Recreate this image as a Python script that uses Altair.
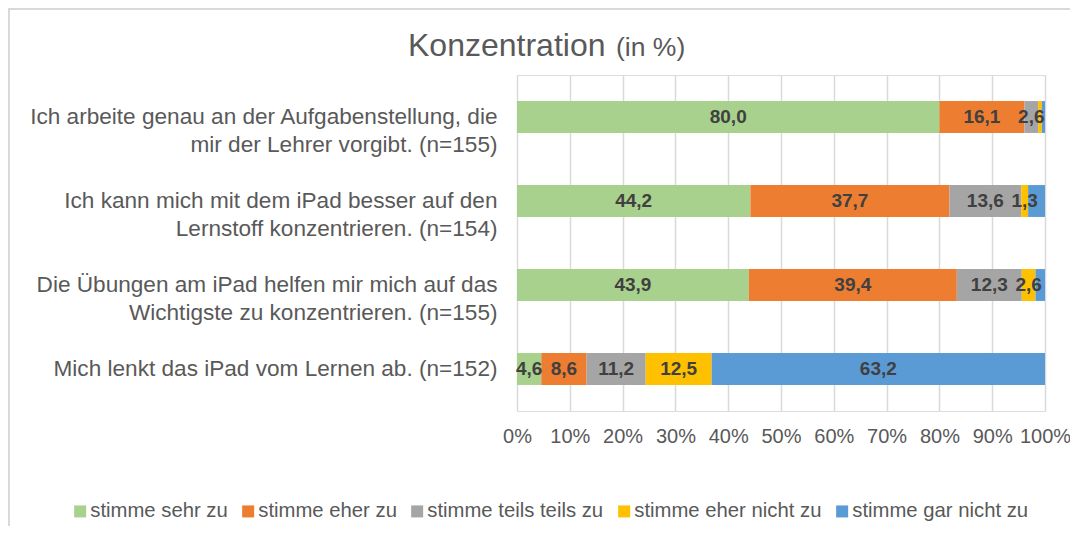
import altair as alt
import pandas as pd

categories = [
    "Ich arbeite genau an der Aufgabenstellung, die|mir der Lehrer vorgibt. (n=155)",
    "Ich kann mich mit dem iPad besser auf den|Lernstoff konzentrieren. (n=154)",
    "Die Übungen am iPad helfen mir mich auf das|Wichtigste zu konzentrieren. (n=155)",
    "Mich lenkt das iPad vom Lernen ab. (n=152)",
]
series = ["stimme sehr zu", "stimme eher zu", "stimme teils teils zu",
          "stimme eher nicht zu", "stimme gar nicht zu"]
colors = ["#a9d18e", "#ed7d31", "#a5a5a5", "#ffc000", "#5b9bd5"]

sehr_zu = [80.0, 44.2, 43.9, 4.6]
eher_zu = [16.1, 37.7, 39.4, 8.6]
teils_zu = [2.6, 13.6, 12.3, 11.2]
eher_nicht_zu = [0.7, 1.3, 2.6, 12.5]
gar_nicht_zu = [0.6, 3.2, 1.8, 63.2]
label_shown = [
    [True, True, True, False, False],
    [True, True, True, True, False],
    [True, True, True, True, False],
    [True, True, True, True, True],
]

values = [sehr_zu, eher_zu, teils_zu, eher_nicht_zu, gar_nicht_zu]
rows = []
for ci, cat in enumerate(categories):
    for si, s in enumerate(series):
        v = values[si][ci]
        rows.append({
            "cat": cat, "series": s, "order": si, "value": v,
            "label": (f"{v:.1f}".replace(".", ",") if label_shown[ci][si] else ""),
        })
df = pd.DataFrame(rows)

FONT = "Liberation Sans"
GREY = "#595959"

base = alt.Chart(df).transform_stack(
    stack="value", groupby=["cat"], sort=[alt.SortField("order")],
    as_=["x0", "x1"], offset="normalize",
)

y_enc = alt.Y(
    "cat:N", sort=categories, title=None,
    scale=alt.Scale(paddingInner=0.62, paddingOuter=0.31),
    axis=alt.Axis(
        labelExpr="split(datum.value, '|')", labelFont=FONT, labelFontSize=22.6,
        labelColor=GREY, labelPadding=20, ticks=False, domain=False,
        labelLimit=600, labelLineHeight=28, labelAlign="right",
    ),
)

bars = base.mark_bar().encode(
    x=alt.X(
        "x0:Q", title=None, scale=alt.Scale(domain=[0, 1]),
        axis=alt.Axis(
            values=[i / 10 for i in range(11)], format=".0%", labelFont=FONT,
            labelFontSize=20, labelColor=GREY, labelPadding=15, ticks=False,
            domain=False, grid=True, gridColor="#d9d9d9", gridWidth=1.5,
            labelOverlap=False, labelFlush=False,
        ),
    ),
    x2="x1:Q",
    y=y_enc,
    color=alt.Color(
        "series:N", scale=alt.Scale(domain=series, range=colors),
        legend=alt.Legend(
            title=None, orient="none", direction="horizontal", legendX=-447,
            legendY=426, symbolType="square", symbolSize=144, symbolStrokeWidth=0,
            labelFont=FONT, labelFontSize=20.3, labelColor=GREY, labelOffset=0,
            columnPadding=10, padding=0, columns=5, labelLimit=400,
        ),
    ),
)

text = base.transform_calculate(mid="(datum.x0 + datum.x1) / 2").transform_filter(
    "datum.label != ''"
).mark_text(font=FONT, fontSize=19, fontWeight="bold", color="#404040",
            baseline="middle").encode(
    x="mid:Q",
    y=alt.Y("cat:N", sort=categories),
    text="label:N",
)

title_df = pd.DataFrame({"t": ["Konzentration"], "s": ["(in %)"]})
title_main = alt.Chart(title_df).mark_text(
    font=FONT, fontSize=32, color=GREY, align="left", baseline="alphabetic"
).encode(x=alt.value(-109), y=alt.value(-19), text="t:N")
title_sub = alt.Chart(title_df).mark_text(
    font=FONT, fontSize=26.5, color=GREY, align="left", baseline="alphabetic"
).encode(x=alt.value(99), y=alt.value(-19), text="s:N")

border_df = pd.DataFrame({"k": [1]})
border_left = alt.Chart(border_df).mark_rule(color="#d9d9d9", strokeWidth=2).encode(
    x=alt.value(-508), y=alt.value(-67), y2=alt.value(460)
)
border_top = alt.Chart(border_df).mark_rule(color="#d9d9d9", strokeWidth=2).encode(
    x=alt.value(-508), x2=alt.value(560), y=alt.value(-66)
)

chart = alt.layer(bars, text, title_main, title_sub, border_left, border_top).properties(
    width=528, height=336,
    autosize=alt.AutoSizeParams(type="none"),
    padding={"left": 509, "top": 67, "right": 25, "bottom": 115},
).configure_view(stroke=None).configure(background="white")

chart.save("out.html", embed_options={"renderer": "svg", "actions": False})
